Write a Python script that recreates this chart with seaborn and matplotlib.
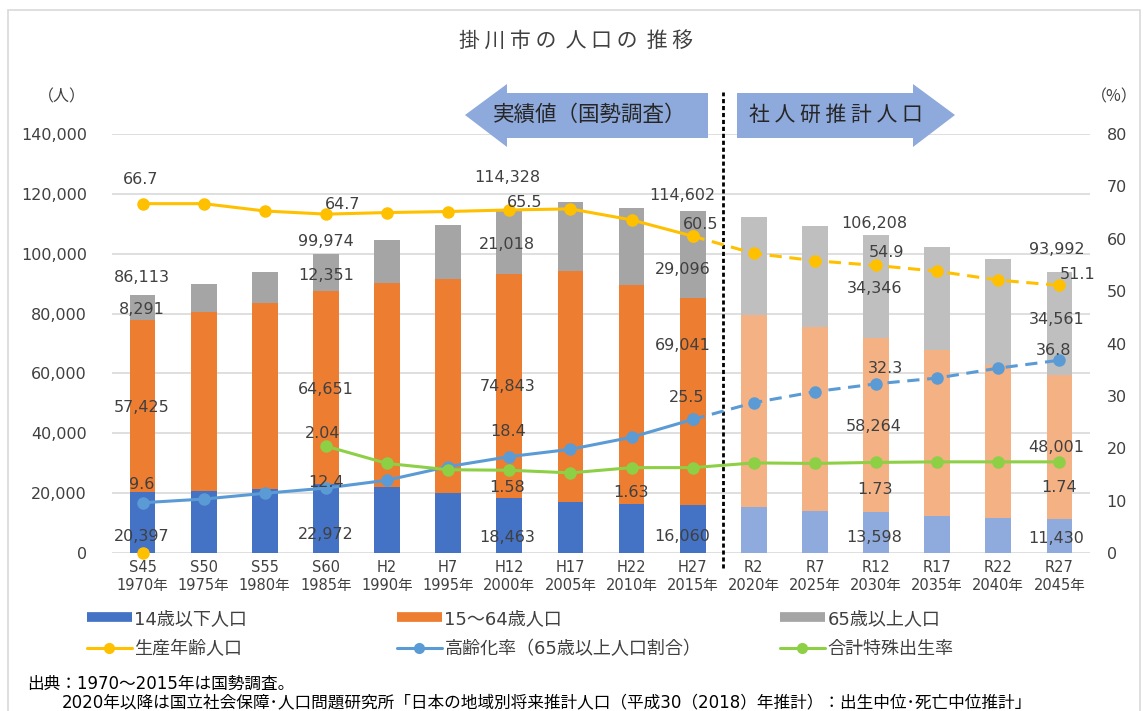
"""掛川市の人口の推移 - stacked bars + rate lines (twin axis)
"""
import matplotlib
matplotlib.use("Agg")
import matplotlib.pyplot as plt
from matplotlib.lines import Line2D
from matplotlib.patches import Polygon, Rectangle
import numpy as np
import seaborn as sns


# Data

categories = [
    "S45\n1970年", "S50\n1975年", "S55\n1980年", "S60\n1985年",
    "H2\n1990年", "H7\n1995年", "H12\n2000年", "H17\n2005年",
    "H22\n2010年", "H27\n2015年", "R2\n2020年", "R7\n2025年",
    "R12\n2030年", "R17\n2035年", "R22\n2040年", "R27\n2045年",
]
n_actual = 10  # first 10 points are census, rest are projections

pop_0_14 = [20397, 20800, 21400, 22972, 22100, 20150, 18463, 17040,
            16270, 16060, 15270, 14150, 13598, 12470, 11700, 11430]
pop_15_64 = [57425, 59800, 62000, 64651, 68000, 71400, 74843, 77300,
             73170, 69041, 64250, 61450, 58264, 55350, 51100, 48001]
pop_65 = [8291, 9400, 10500, 12351, 14500, 18050, 21018, 23000,
          25830, 29096, 32780, 33700, 34346, 34380, 35390, 34561]
pop_total_labels = {0: "86,113", 3: "99,974", 6: "114,328", 9: "114,602",
                    12: "106,208", 15: "93,992"}

# rates (%), right axis
working_age_ratio = [66.7, 66.7, 65.3, 64.7, 65.0, 65.2, 65.5, 65.7,
                     63.6, 60.5, 57.2, 55.8, 54.9, 53.8, 52.1, 51.1]
aging_rate = [9.6, 10.3, 11.4, 12.4, 13.9, 16.5, 18.4, 19.8,
              22.1, 25.5, 28.7, 30.8, 32.3, 33.4, 35.3, 36.8]
# total fertility rate, drawn x10 on the % axis, starts at S60
tfr_index = list(range(3, 16))
tfr = [2.04, 1.71, 1.59, 1.58, 1.53, 1.63, 1.63, 1.72, 1.71, 1.73,
       1.74, 1.74, 1.74]
stray_point = [0.0]  # lone yellow marker sitting at S45 on the baseline

legend_labels = ["14歳以下人口", "15〜64歳人口", "65歳以上人口",
                 "生産年齢人口", "高齢化率（65歳以上人口割合）", "合計特殊出生率"]


# Style

sns.set_style("white")
# DejaVu first for the wide latin digits, CJK glyphs fall back to Noto
plt.rcParams["font.family"] = ["DejaVu Sans", "Noto Sans CJK JP"]

C_BLUE, C_BLUE_L = "#4472C4", "#8FAADC"
C_ORANGE, C_ORANGE_L = "#ED7D31", "#F4B183"
C_GRAY, C_GRAY_L = "#A5A5A5", "#BFBFBF"
C_YELLOW, C_LBLUE, C_GREEN = "#FFC000", "#5B9BD5", "#8DCF45"
C_TEXT = "#404040"
C_GRID = "#D9D9D9"
CJK = ["Noto Sans CJK JP", "DejaVu Sans"]

W, H = 1144, 711
fig = plt.figure(figsize=(W / 100, H / 100), dpi=100)
ax = fig.add_axes([112 / W, 1 - 553 / H, 978 / W, 419 / H])


def fx(px):
    return px / W


def fy(py):
    return 1 - py / H


def shade(dark, light):
    return [dark] * n_actual + [light] * (len(categories) - n_actual)


# Bars (overlay cumulative heights, tallest first)

cum_orange = np.array(pop_0_14) + np.array(pop_15_64)
cum_total = cum_orange + np.array(pop_65)

for heights, dark, light in [(cum_total, C_GRAY, C_GRAY_L),
                             (cum_orange, C_ORANGE, C_ORANGE_L),
                             (pop_0_14, C_BLUE, C_BLUE_L)]:
    sns.barplot(x=categories, y=heights, hue=categories,
                palette=shade(dark, light), legend=False, width=0.42,
                linewidth=0, saturation=1, ax=ax)

ax.set_xlim(-0.5, len(categories) - 0.5)
ax.set_ylim(0, 140000)
ax.set_yticks(np.arange(0, 140001, 20000))
ax.set_yticklabels([f"{v:,}" for v in range(0, 140001, 20000)])
ax.set_xlabel("")
ax.set_ylabel("")
ax.yaxis.grid(True, color=C_GRID, linewidth=1.2)
ax.set_axisbelow(True)
for s in ax.spines.values():
    s.set_visible(False)
ax.tick_params(axis="y", length=0, pad=18, labelsize=11.5, labelcolor=C_TEXT)
ax.tick_params(axis="x", length=0, pad=5, labelsize=10.5, labelcolor=C_TEXT)
for lbl in ax.get_xticklabels():
    lbl.set_linespacing(1.25)

# Lines on the % axis

ax2 = ax.twinx()
ax2.set_ylim(0, 80)
ax2.set_yticks(np.arange(0, 81, 10))
for s in ax2.spines.values():
    s.set_visible(False)
ax2.tick_params(axis="y", length=0, pad=12, labelsize=11.5, labelcolor=C_TEXT)

idx = np.arange(len(categories))
line_kw = dict(marker="o", markersize=9, markeredgewidth=0, linewidth=2.2, ax=ax2)
for series, color in [(working_age_ratio, C_YELLOW), (aging_rate, C_LBLUE)]:
    sns.lineplot(x=idx[:n_actual], y=series[:n_actual], color=color, **line_kw)
    sns.lineplot(x=idx[n_actual - 1:], y=series[n_actual - 1:], color=color,
                 dashes=False, linestyle=(0, (4, 2.5)), **line_kw)
sns.lineplot(x=tfr_index, y=np.array(tfr) * 10, color=C_GREEN, **line_kw)
ax2.plot([0], stray_point, "o", color=C_YELLOW, markersize=9,
         markeredgewidth=0, clip_on=False, zorder=5)
ax2.set_xlim(-0.5, len(categories) - 0.5)

# Data labels (offsets in pixels from the anchor)

lab_kw = dict(textcoords="offset pixels", ha="center", va="center",
              fontsize=11.5, color=C_TEXT, annotation_clip=False)

# bar labels: (index, dx, dy_total, dy_65, dy_mid, dy_low)
bar_label_offsets = [
    (0, -1, 18, -2, -1, -14),
    (3, 0, 12, -3, -2, -16),
    (6, -2, 33, -2, -1, -12),
    (9, -10, 16, -15, 56, -8),
    (12, -2, 12, -2, -1, -5),
    (15, -3, 22, 4, -1, -3),
]
for i, dx, d_tot, d_65, d_mid, d_low in bar_label_offsets:
    ax2.annotate(pop_total_labels[i], xy=(i, cum_total[i]),
                 xycoords=ax.transData, xytext=(dx, d_tot), **lab_kw)
    ax2.annotate(f"{pop_65[i]:,}", xy=(i, cum_orange[i] + pop_65[i] / 2),
                 xycoords=ax.transData, xytext=(dx, d_65), **lab_kw)
    ax2.annotate(f"{pop_15_64[i]:,}", xy=(i, pop_0_14[i] + pop_15_64[i] / 2),
                 xycoords=ax.transData, xytext=(dx, d_mid), **lab_kw)
    ax2.annotate(f"{pop_0_14[i]:,}", xy=(i, pop_0_14[i] / 2),
                 xycoords=ax.transData, xytext=(dx, d_low), **lab_kw)

rate_label_offsets = {
    "work": [(0, -2, 24), (3, 17, 10), (6, 15, 7), (9, 8, 12), (12, 10, 13), (15, 18, 11)],
    "aging": [(0, -1, 18), (3, 0, 6), (6, -1, 25), (9, -6, 22), (12, 9, 15), (15, -6, 10)],
    "tfr": [(3, -3, 13), (6, -2, -17), (8, -1, -25), (12, -1, -27), (15, 0, -26)],
}
for i, dx, dy in rate_label_offsets["work"]:
    ax2.annotate(f"{working_age_ratio[i]:.1f}", xy=(i, working_age_ratio[i]),
                 xytext=(dx, dy), **lab_kw)
for i, dx, dy in rate_label_offsets["aging"]:
    ax2.annotate(f"{aging_rate[i]:.1f}", xy=(i, aging_rate[i]),
                 xytext=(dx, dy), **lab_kw)
for i, dx, dy in rate_label_offsets["tfr"]:
    v = tfr[tfr_index.index(i)]
    ax2.annotate(f"{v:.2f}", xy=(i, v * 10), xytext=(dx, dy), **lab_kw)

# Divider between census and projection

ax.axvline(n_actual - 0.5, ymin=-0.035, ymax=1.10, color="black",
           linewidth=2, linestyle=(0, (1.5, 1)), clip_on=False, zorder=6)

# Arrows

arrow_c = "#8EA9DB"
left_arrow = [(465, 115), (507, 84), (507, 93), (708, 93), (708, 138),
              (507, 138), (507, 147)]
right_arrow = [(737, 93), (913, 93), (913, 84), (955, 115), (913, 147),
               (913, 138), (737, 138)]
for pts in (left_arrow, right_arrow):
    fig.patches.append(Polygon([(fx(x), fy(y)) for x, y in pts], closed=True,
                               transform=fig.transFigure, facecolor=arrow_c,
                               edgecolor="none", zorder=3))
fig.text(fx(590), fy(115), "実績値（国勢調査）", ha="center", va="center",
         fontsize=15.5, color="#262626", zorder=4, family=CJK)
fig.text(fx(836), fy(115), "社 人 研 推 計 人 口", ha="center", va="center",
         fontsize=15, color="#262626", zorder=4, family=CJK)

# Titles / units

fig.text(fx(576), fy(42), "掛 川 市 の  人 口 の  推 移", ha="center",
         va="center", fontsize=15, color=C_TEXT, family=CJK)
fig.text(fx(62), fy(97), "（人）", ha="center", va="center", fontsize=11.5,
         color=C_TEXT, family=CJK)
fig.text(fx(1114), fy(97), "（%）", ha="center", va="center", fontsize=11.5,
         color=C_TEXT, family=CJK)

# Legend (three separate columns)

bar_handle = dict(linewidth=7, solid_capstyle="butt")
line_handle = dict(linewidth=2.2, marker="o", markersize=8, markeredgewidth=0)
handles = [
    Line2D([], [], color=C_BLUE, **bar_handle),
    Line2D([], [], color=C_ORANGE, **bar_handle),
    Line2D([], [], color=C_GRAY, **bar_handle),
    Line2D([], [], color=C_YELLOW, **line_handle),
    Line2D([], [], color=C_LBLUE, **line_handle),
    Line2D([], [], color=C_GREEN, **line_handle),
]
for col, x_px in enumerate([74, 384, 767]):
    leg = fig.legend([handles[col], handles[col + 3]],
                     [legend_labels[col], legend_labels[col + 3]],
                     loc="upper left", bbox_to_anchor=(fx(x_px), fy(597)),
                     frameon=False, fontsize=13, handlelength=2.5,
                     handletextpad=0.15, labelspacing=0.68, borderpad=0.2)
    for t in leg.get_texts():
        t.set_color(C_TEXT)

# Source note + border

fig.text(fx(27), fy(684), "出典：1970〜2015年は国勢調査。", ha="left",
         va="center", fontsize=12, color="black")
fig.text(fx(62), fy(702),
         "2020年以降は国立社会保障･人口問題研究所「日本の地域別将来推計人口"
         "（平成30（2018）年推計）：出生中位･死亡中位推計」",
         ha="left", va="center", fontsize=12, color="black")
fig.patches.append(Rectangle((fx(8), fy(H + 5)), fx(1132), fy(10) - fy(H + 5),
                             transform=fig.transFigure, fill=False,
                             edgecolor=C_GRID, linewidth=1.2, zorder=0))

fig.savefig("out.png", dpi=100)
